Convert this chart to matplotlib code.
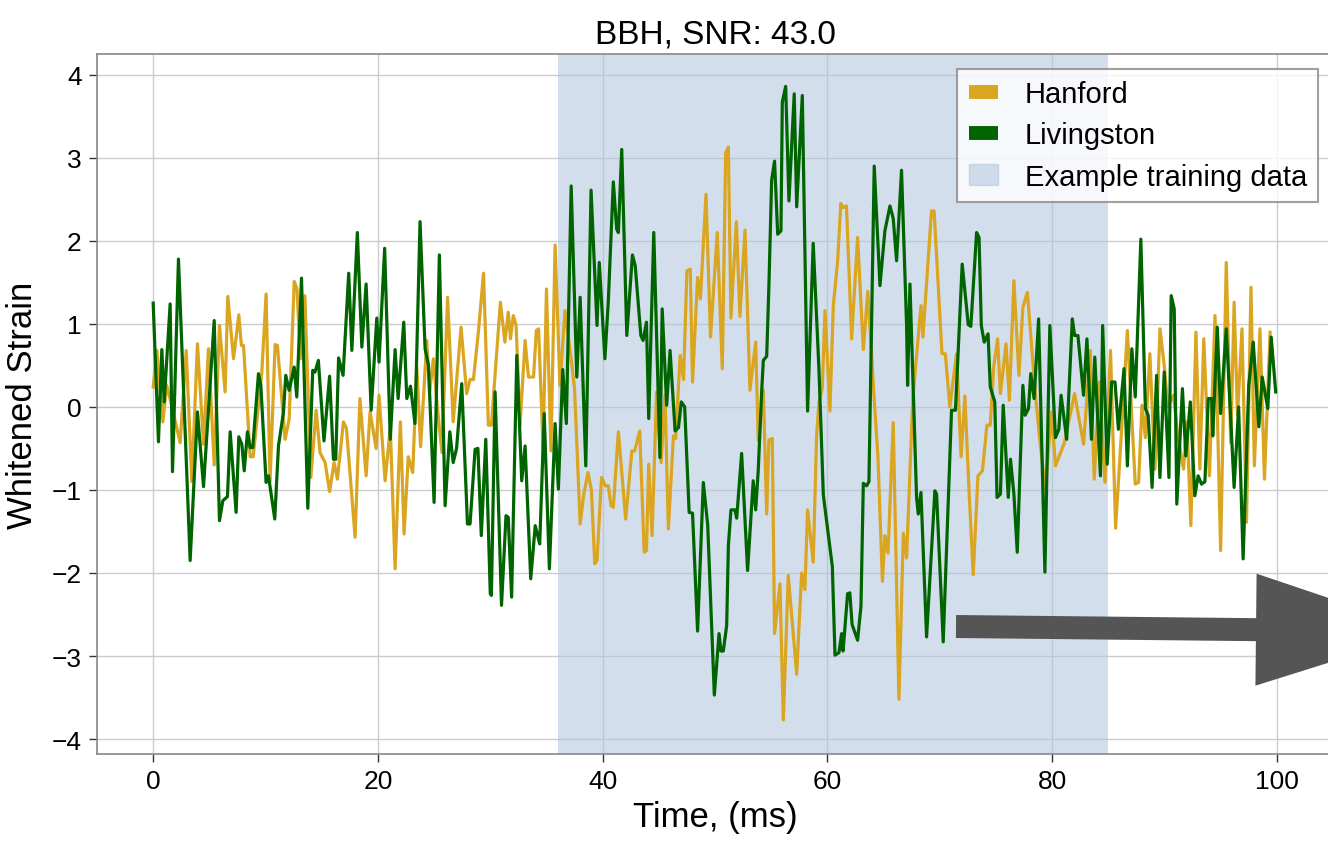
import numpy as np
import matplotlib
matplotlib.use("Agg")
import matplotlib.pyplot as plt
from matplotlib.patches import Patch, FancyArrow
from matplotlib.lines import Line2D

plt.rcParams['font.family'] = ['Liberation Sans', 'DejaVu Sans']

# whitened strain (time in ms)
t_hanford = [
    0.0, 0.33, 0.86, 1.2, 1.5, 2.4, 2.94, 3.44, 3.94, 4.48, 4.92, 5.43, 5.9, 6.4, 6.64, 7.15,
    7.62, 7.85, 8.04, 8.63, 8.9, 9.67, 10.05, 10.4, 10.85, 11.06, 11.74, 12.1, 12.55, 12.8,
    13.1, 13.5, 14.03, 14.5, 14.85, 15.3, 15.7, 16.1, 16.4, 16.93, 17.2, 17.97, 18.4, 18.95,
    19.3, 19.84, 20.1, 20.64, 21.1, 21.53, 22.0, 22.33, 22.7, 23.1, 23.46, 23.8, 24.35, 24.6,
    24.94, 25.3, 25.7, 26.2, 26.7, 27.4, 27.9, 28.2, 28.5, 28.94, 29.4, 29.83, 30.1, 30.9,
    31.3, 31.6, 31.8, 32.05, 32.3, 32.65, 33.1, 33.4, 33.85, 34.1, 34.3, 34.7, 35.0, 35.4,
    35.77, 36.2, 36.65, 37.25, 37.5, 38.0, 38.3, 38.7, 39.0, 39.3, 39.5, 39.9, 40.25, 40.5,
    40.75, 40.95, 41.4, 42.05, 42.6, 42.85, 43.3, 43.7, 43.9, 44.1, 44.4, 44.8, 45.2, 45.55,
    45.85, 46.3, 46.5, 46.9, 47.2, 47.5, 47.8, 48.0, 48.45, 48.7, 49.2, 49.6, 50.2, 50.65,
    50.95, 51.19, 51.42, 51.9, 52.22, 52.67, 53.11, 53.62, 53.85, 54.3, 54.6, 54.8, 55.1,
    55.3, 55.78, 56.08, 56.52, 57.27, 57.71, 58.0, 58.24, 58.74, 59.04, 59.25, 59.55, 59.79,
    60.23, 60.53, 60.91, 61.2, 61.4, 61.7, 62.16, 62.69, 63.2, 63.6, 64.17, 64.5, 64.9, 65.12,
    65.4, 65.86, 66.37, 66.76, 67.05, 67.6, 68.33, 68.5, 69.27, 69.5, 70.2, 70.5, 70.9, 71.5,
    71.9, 72.24, 72.6, 72.98, 73.4, 73.8, 74.2, 74.5, 74.8, 75.15, 75.4, 75.9, 76.2, 76.6,
    77.05, 77.4, 77.8, 78.5, 78.9, 79.4, 79.95, 80.3, 81.1, 82.0, 82.8, 83.4, 83.75, 84.2,
    84.7, 85.2, 85.65, 86.1, 86.7, 87.4, 87.7, 88.0, 88.3, 88.7, 89.15, 89.6, 89.98, 90.3,
    90.8, 91.2, 91.7, 92.0, 92.35, 92.8, 93.15, 93.5, 94.0, 94.5, 95.0, 95.5, 95.9, 96.2,
    96.5, 96.9, 97.3, 97.7, 98.0, 98.5, 98.9, 99.4]
strain_hanford = [
    0.24, 0.68, -0.18, 0.26, 0.1, -0.43, 0.68, -0.9, 0.76, -0.45, 0.7, -0.7, 0.98, 0.18, 1.33, 0.58,
    1.11, 0.74, 0.74, -0.6, -0.6, 0.42, 1.36, -0.9, 0.75, 0.74, -0.39, -0.15, 1.51, 1.42,
    0.58, 1.34, -0.85, -0.04, -0.55, -0.67, -1.02, -0.67, -0.87, -0.18, -0.26, -1.57, 0.1, -0.83,
    -0.06, -0.5, 0.14, -0.89, -0.25, -1.95, -0.18, -1.53, -0.6, -0.79, 0.48, -0.48, 0.8, 0.18,
    0.58, -0.02, -0.55, 1.32, -0.18, 0.96, 0.16, 0.33, 0.33, 0.9, 1.61, -0.22, -0.22, 1.26,
    0.78, 1.14, 0.82, 1.1, 0.98, -0.22, 0.8, 0.36, 0.36, 0.92, 0.94, -0.5, 1.42, -0.53,
    1.95, 0.26, 1.16, 0.52, 0.22, -1.41, -1.07, -0.79, -1.0, -1.89, -1.85, -0.85, -0.95, -0.95,
    -1.19, -1.21, -0.3, -1.35, -0.53, -0.53, -0.29, -1.75, -1.73, -0.69, -1.55, 0.18, -0.67, 0.14,
    -1.47, -0.35, -0.38, 0.62, 0.33, 1.64, 1.66, 0.3, 1.56, 1.3, 2.56, 0.84, 2.1, 0.46,
    3.06, 3.13, 1.07, 2.23, 1.09, 2.13, 0.2, 0.78, -0.4, 0.2, -1.29, -0.4, -0.38,
    -2.73, -2.13, -3.77, -2.03, -3.22, -2.0, -2.2, -1.24, -1.87, -0.35, 0.05, 0.23, 1.16,
    -0.05, 1.22, 1.75, 2.45, 2.4, 2.42, 0.82, 2.04, 0.69, 1.39, 0.09, -0.6, -2.1, -1.55,
    -1.76, -0.19, -3.52, -1.52, -1.82, 0.09, 1.22, 0.84, 2.36, 2.36, 0.64, 0.64, 0.0, 0.64,
    -0.6, 0.13, -0.99, -2.02, -0.83, -0.77, -0.22, -0.22, 0.48, 0.82, 0.16, 0.76, 0.08, 1.52,
    0.38, 1.2, 1.38, 0.18, -0.39, -0.99, -0.06, -0.71, -0.43, 0.16, -0.45, 0.68, -0.87, 0.3,
    -0.91, 0.68, -1.46, -0.47, 0.92, -0.93, -0.91, 0.02, -0.37, 0.64, -0.75, 0.94, 0.5, 0.0,
    0.14, -0.35, -0.75, -0.18, -1.43, 0.9, -0.75, 0.82, -0.83, 1.1, -1.73, 1.74, -0.43, 1.26,
    -0.1, 0.94, -1.39, 1.44, -0.71, 0.94, -0.87, 0.9]

t_livingston = [
    0.0, 0.47, 0.77, 0.98, 1.51, 1.72, 2.25, 3.29, 3.94, 4.48, 5.43, 5.9, 6.2, 6.61, 6.85, 7.38,
    7.62, 7.89, 8.1, 8.39, 8.63, 8.86, 9.37, 9.58, 10.05, 10.26, 10.82, 11.15, 11.59, 11.8,
    12.1, 12.55, 12.78, 13.2, 13.76, 14.2, 14.4, 14.7, 15.2, 15.7, 16.04, 16.25, 16.5, 16.9,
    17.4, 17.68, 18.17, 18.57, 18.95, 19.4, 19.9, 20.1, 20.6, 21.1, 21.53, 21.8, 22.3, 22.57,
    22.9, 23.3, 23.75, 24.2, 24.5, 25.0, 25.47, 25.98, 26.4, 26.7, 27.0, 27.46, 27.97, 28.2,
    28.65, 28.9, 29.2, 29.6, 30.0, 30.1, 30.43, 31.0, 31.4, 31.6, 31.9, 32.36, 32.8, 33.1,
    33.6, 34.0, 34.4, 34.8, 35.26, 35.77, 36.06, 36.45, 36.77, 37.2, 37.7, 38.0, 38.5, 38.97,
    39.5, 39.7, 40.2, 40.5, 40.95, 41.25, 41.4, 41.7, 42.15, 42.65, 42.9, 43.4, 43.6, 43.9,
    44.1, 44.55, 45.1, 45.3, 45.7, 46.0, 46.45, 46.75, 47.0, 47.3, 47.7, 48.0, 48.45, 48.96,
    49.35, 49.94, 50.36, 50.53, 50.74, 51.04, 51.19, 51.42, 51.78, 51.93, 52.37, 52.9, 53.4,
    53.62, 53.85, 54.16, 54.3, 54.6, 54.8, 55.04, 55.3, 55.58, 55.87, 55.99, 56.29, 56.58,
    57.05, 57.27, 57.77, 58.24, 58.74, 59.25, 59.64, 60.02, 60.44, 60.68, 61.03, 61.27, 61.4,
    61.8, 62.0, 62.2, 62.69, 62.99, 63.2, 63.5, 63.7, 63.94, 64.17, 64.68, 65.12, 65.57, 65.86,
    66.16, 66.6, 67.05, 67.14, 67.35, 67.94, 68.09, 68.33, 68.83, 69.57, 69.72, 70.31, 71.05,
    71.4, 72.0, 72.54, 72.77, 73.28, 73.5, 73.7, 73.96, 74.3, 74.5, 74.9, 75.1, 75.4, 75.65,
    76.1, 76.3, 76.6, 76.9, 77.4, 77.6, 77.9, 78.1, 78.4, 78.8, 79.36, 79.8, 80.3, 80.6,
    80.8, 81.3, 81.8, 82.0, 82.3, 82.8, 83.1, 83.5, 83.8, 84.3, 84.5, 84.9, 85.3, 85.6,
    85.9, 86.4, 86.7, 87.1, 87.4, 87.9, 88.3, 88.55, 88.9, 89.3, 89.6, 89.98, 90.4, 90.6,
    90.87, 91.1, 91.6, 91.9, 92.3, 92.7, 93.0, 93.3, 93.6, 93.9, 94.2, 94.3, 94.7, 95.0,
    95.5, 96.2, 96.6, 97.0, 97.5, 97.9, 98.4, 98.7, 99.2, 99.5, 99.9]
strain_livingston = [
    1.25, -0.42, 0.69, 0.06, 1.24, -0.78, 1.78, -1.85, -0.06, -0.96, 1.04, -1.37, -1.13, -1.08, -0.3, -1.27,
    -0.36, -0.45, -0.77, -0.3, -0.49, -0.49, 0.4, 0.26, -0.91, -0.83, -1.35, -0.47, -0.07, 0.38,
    0.2, 0.48, 0.12, 1.55, -1.22, 0.44, 0.42, 0.56, -0.41, 0.37, -0.63, -0.63, 0.59, 0.38,
    1.61, 0.68, 2.1, 0.72, 1.48, -0.04, 1.07, 0.54, 1.91, -0.39, 0.69, 0.1, 1.02, 0.1,
    0.25, -0.2, 2.23, 0.7, 0.5, -1.15, 1.83, -1.19, -0.3, -0.67, -0.5, 0.28, -1.41, -1.41,
    -0.51, -0.5, -1.55, -0.39, -2.25, -2.27, 0.18, -2.39, -1.31, -1.33, -2.29, 0.62, -0.89, -0.47,
    -2.07, -1.43, -1.65, -0.08, -1.95, -0.2, -0.99, 0.45, -0.2, 2.66, 0.36, 1.32, -0.71, 2.61,
    0.98, 1.74, 0.58, 1.26, 2.71, 2.14, 2.1, 3.1, 0.86, 1.83, 1.7, 0.86, 0.8, 1.02,
    -0.14, 2.1, -0.61, 1.18, 0.02, 0.68, -0.29, -0.25, 0.06, 0.0, -1.27, -1.28, -2.7, -0.91,
    -1.42, -3.47, -2.73, -2.94, -2.94, -2.63, -1.67, -1.24, -1.24, -1.34, -0.56, -1.97, -0.89,
    -1.24, -0.76, 0.2, 0.56, 0.61, 1.47, 2.73, 2.96, 2.08, 2.12, 3.67, 3.86, 2.48,
    3.77, 2.41, 3.75, -0.05, 1.97, 0.46, -1.06, -1.47, -1.92, -2.99, -2.96, -2.73, -2.94,
    -2.25, -2.24, -2.62, -2.81, -2.4, -0.92, -0.95, -0.9, 1.07, 2.9, 1.46, 2.12, 2.42, 2.27,
    1.76, 2.85, 0.99, 0.26, 1.48, -1.09, -1.29, -1.03, -2.77, -1.01, -1.05, -2.83, -0.04,
    -0.04, 1.72, 0.99, 0.97, 2.1, 2.04, 0.98, 0.78, 0.88, 0.24, 0.06, -1.09, -1.05, 0.02,
    -1.09, -0.63, -1.05, -1.75, 0.26, -0.1, -0.02, 0.4, 0.1, 1.06, -1.99, 0.98, -0.37, -0.27,
    0.14, -0.39, 1.06, 0.86, 0.86, 0.14, 0.82, -0.39, 0.6, -0.83, 0.98, -0.69, 0.3, 0.3,
    -0.27, 0.46, -0.71, 0.7, 0.12, 2.02, -0.02, -0.1, -0.97, 0.38, -0.85, 0.42, -0.85, 1.34,
    1.18, -1.17, 0.22, -0.59, 0.06, -1.07, -0.83, -0.93, -0.9, 0.1, 0.1, -0.35, 0.96, -0.08,
    0.94, -0.97, 0.0, -1.83, 0.26, 0.78, -0.24, 0.36, -0.02, 0.84, 0.18]

train_window = [36.0, 85.0]
title = "BBH, SNR: 43.0"

hanford_color = "goldenrod"
livingston_color = "darkgreen"
span_color = "lightsteelblue"

fig = plt.figure(figsize=(13.28, 8.45), dpi=100)
ax = fig.add_axes([97 / 1328, 90 / 845, 1236 / 1328, 700 / 845])

ax.axvspan(train_window[0], train_window[1], color=span_color, alpha=0.55, lw=0, zorder=1)
ax.plot(t_hanford, strain_hanford, color=hanford_color, lw=2.3, zorder=2)
ax.plot(t_livingston, strain_livingston, color=livingston_color, lw=2.3, zorder=3)

ax.set_xlim(-5, 105)
ax.set_ylim(-4.18, 4.25)
ax.set_xticks([0, 20, 40, 60, 80, 100])
ax.set_yticks([-4, -3, -2, -1, 0, 1, 2, 3, 4])
ax.grid(True, color="#cccccc", lw=1.0)
ax.set_axisbelow(True)
for s in ax.spines.values():
    s.set_color("#888888")
    s.set_linewidth(1.2)
ax.tick_params(axis="both", direction="out", length=6, width=1.0, color="#333333",
               labelsize=19, pad=5, top=False, right=False)

ax.set_title(title, fontsize=24, pad=8)
ax.set_xlabel("Time, (ms)", fontsize=25, labelpad=5)
ax.set_ylabel("Whitened Strain", fontsize=25, labelpad=9)

handles = [
    Line2D([], [], color=hanford_color, lw=10, solid_capstyle="butt"),
    Line2D([], [], color=livingston_color, lw=10, solid_capstyle="butt"),
    Patch(facecolor=span_color, alpha=0.55, edgecolor=span_color),
]
leg = ax.legend(handles, ["Hanford", "Livingston", "Example training data"],
                loc="upper right", fontsize=21, fancybox=False, framealpha=0.8,
                edgecolor="#888888", handlelength=1.0, handletextpad=0.9,
                labelspacing=0.45)
leg.get_frame().set_linewidth(1.5)

# big arrow pointing out of the figure, in inches from bottom left
arrow = FancyArrow(9.56, 2.175, 4.72, -0.05, width=0.23, head_width=1.12,
                   head_length=1.72, length_includes_head=True,
                   color="#555555", lw=0, transform=fig.dpi_scale_trans, clip_on=False)
fig.add_artist(arrow)

fig.savefig("out.png", dpi=100)
